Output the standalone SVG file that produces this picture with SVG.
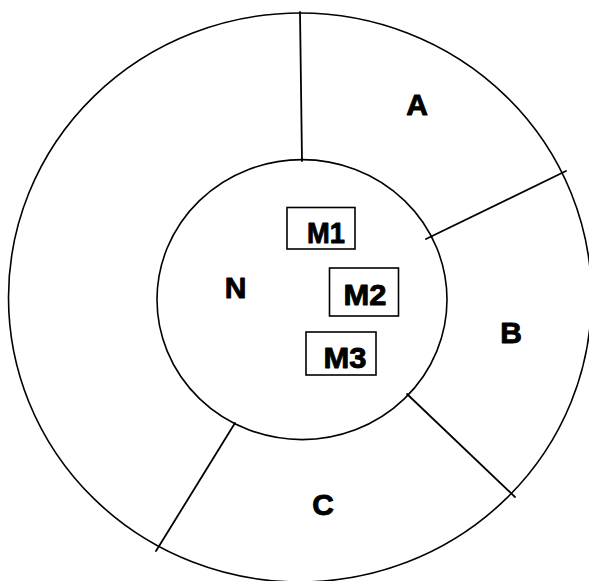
<svg xmlns="http://www.w3.org/2000/svg" width="589" height="581" viewBox="0 0 589 581">
  <style>
    .ring { fill: none; stroke: #000; stroke-width: 1.6; }
    .edge { fill: none; stroke: #000; stroke-width: 1.8; stroke-linecap: round; }
    .box { fill: #fff; stroke: #000; stroke-width: 1.6; }
    .lbl { font-family: "Liberation Sans", Arial, sans-serif; font-weight: bold; font-size: 30px; fill: #000; stroke: #000; stroke-width: 0.9; stroke-linejoin: round; text-anchor: middle; }
  </style>
  <rect width="589" height="581" fill="#fff"/>

  <!-- rings -->
  <g id="outer-ring">
    <ellipse class="ring" cx="300" cy="297.5" rx="291.5" ry="284.5"/>
  </g>
  <g id="N">
    <ellipse class="ring" cx="302" cy="299.6" rx="145" ry="140"/>
    <text class="lbl" x="235.5" y="298">N</text>
  </g>

  <!-- sector dividers -->
  <g id="connectors">
    <line class="edge" x1="300" y1="12" x2="302" y2="161"/>
    <line class="edge" x1="566" y1="171" x2="426" y2="239"/>
    <line class="edge" x1="407" y1="394" x2="515" y2="497"/>
    <line class="edge" x1="235" y1="423" x2="156" y2="551"/>
  </g>

  <!-- sector labels -->
  <g id="A"><text class="lbl" x="417" y="115">A</text></g>
  <g id="B"><text class="lbl" x="511" y="343">B</text></g>
  <g id="C"><text class="lbl" x="323" y="515">C</text></g>

  <!-- modules -->
  <g id="M1">
    <rect class="box" x="287" y="207.5" width="68" height="41.5"/>
    <text class="lbl" x="326" y="243" textLength="38" lengthAdjust="spacingAndGlyphs">M1</text>
  </g>
  <g id="M2">
    <rect class="box" x="329.5" y="268" width="69" height="48"/>
    <text class="lbl" x="365" y="305" textLength="43" lengthAdjust="spacingAndGlyphs">M2</text>
  </g>
  <g id="M3">
    <rect class="box" x="306" y="332" width="70" height="43"/>
    <text class="lbl" x="345" y="368" textLength="43" lengthAdjust="spacingAndGlyphs">M3</text>
  </g>
</svg>
